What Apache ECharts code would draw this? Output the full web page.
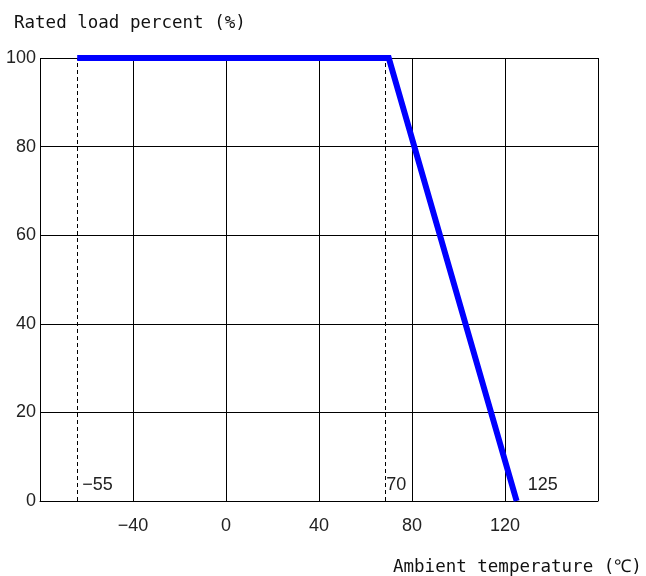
<!DOCTYPE html>
<html>
<head>
<meta charset="utf-8">
<script src="https://cdn.jsdelivr.net/npm/echarts@6/dist/echarts.min.js"></script>
<style>html,body{margin:0;padding:0;background:#fff;}#c{width:646px;height:576px;}</style>
</head>
<body>
<div id="c"></div>
<script>
// Derating curve points (temperature °C, rated load %)
var curveX = [-64, 70, 125];
var curveY = [100, 100, 0];
// Dashed reference lines
var refX = [-64, 68.5];
// Annotation labels
var annoX = [-64, 68.5, 125];
var annoText = ['-55', '70', '125'];
var annoGap = [5, 1, 11];
// Axis setup
var xMin = -80, xMax = 160, xStep = 40;
var yMin = 0, yMax = 100, yStep = 20;
var yTitle = 'Rated load percent (%)';
var xTitle = 'Ambient temperature (\u2103)';

var chart = echarts.init(document.getElementById('c'));
var labelFont = {fontFamily: 'Liberation Sans, Arial, sans-serif', fontSize: 18, color: '#222'};
function minusFix(v){ return String(v).replace('-', '\u2212'); }

chart.setOption({
  animation: false,
  backgroundColor: '#fff',
  title: [
    {text: yTitle, left: 9, top: 9, textStyle: {fontFamily: 'DejaVu Sans Mono, monospace', fontSize: 17.5, fontWeight: 'normal', color: '#111'}},
    {text: xTitle, left: 388, top: 553, textStyle: {fontFamily: 'DejaVu Sans Mono, monospace', fontSize: 17.5, fontWeight: 'normal', color: '#111'}}
  ],
  grid: {left: 40, right: 48, top: 58, bottom: 75, containLabel: false},
  xAxis: {
    type: 'value', min: xMin, max: xMax, interval: xStep,
    axisLine: {show: true, onZero: false, lineStyle: {color: '#000', width: 1}},
    axisTick: {show: false},
    splitLine: {show: true, lineStyle: {color: '#000', width: 1}},
    axisLabel: Object.assign({margin: 16, showMinLabel: false, showMaxLabel: false, formatter: function(v){ return (v === xMin || v === xMax) ? '' : minusFix(v); }}, labelFont)
  },
  yAxis: {
    type: 'value', min: yMin, max: yMax, interval: yStep,
    axisLine: {show: true, lineStyle: {color: '#000', width: 1}},
    axisTick: {show: false},
    splitLine: {show: true, lineStyle: {color: '#000', width: 1}},
    axisLabel: Object.assign({margin: 4}, labelFont)
  },
  series: [
    {
      type: 'line',
      data: curveX.map(function(x, i){ return [x, curveY[i]]; }),
      showSymbol: false, symbol: 'none', clip: false,
      lineStyle: {color: '#0000ff', width: 6, cap: 'butt', join: 'miter'},
      z: 5,
      markLine: {
        silent: true, symbol: ['none', 'none'], label: {show: false},
        lineStyle: {color: '#000', width: 1, type: [4, 3]},
        data: refX.map(function(x){ return {xAxis: x}; })
      }
    },
    {
      type: 'scatter', symbolSize: 0, silent: true, z: 6,
      itemStyle: {opacity: 1},
      label: {show: true, position: 'right', offset: [0, -16], fontFamily: labelFont.fontFamily, fontSize: 18, color: '#222', opacity: 1},
      data: annoX.map(function(x, i){
        return {value: [x, 0], label: {distance: annoGap[i], formatter: minusFix(annoText[i]), color: '#222'}};
      })
    }
  ]
});
</script>
</body>
</html>
